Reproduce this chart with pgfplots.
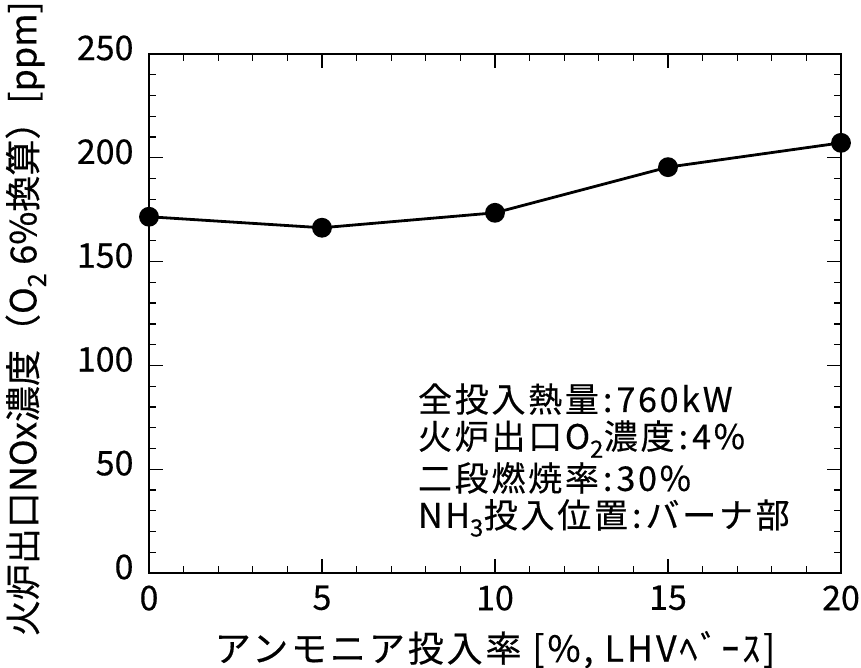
\documentclass[border=0pt]{standalone}
\usepackage{fontspec}
\setmainfont{Noto Sans CJK JP}[FakeBold=0.4]
\newfontfamily\spaced{Noto Sans CJK JP}[LetterSpace=8, FakeBold=0.4]
\usepackage{pgfplots}
\pgfplotsset{compat=1.18}
\newcommand{\col}{\hspace{0.12em}:\hspace{0.12em}}
\begin{document}
\begin{tikzpicture}
\begin{axis}[
  name=ax,
  scale only axis, width=692pt, height=519pt,
  xmin=0, xmax=20, ymin=0, ymax=250,
  xtick={0,5,10,15,20}, ytick={0,50,100,150,200,250},
  minor x tick num=4, minor y tick num=4,
  tick align=inside,
  major tick length=14pt, minor tick length=7pt,
  every tick/.style={black, line width=1.3pt},
  axis line style={line width=1.6pt},
  /pgf/number format/assume math mode=true,
  tick label style={font=\fontsize{34}{34}\selectfont},
  xticklabel style={yshift=-9pt},
  yticklabel style={xshift=-12pt, yshift=6pt},
  xlabel={アンモニア投入率 [\%, LHVﾍﾞｰｽ]},
  ylabel={火炉出口NOx濃度（O\textsubscript{2} 6\%換算）[ppm]},
  xlabel style={font=\spaced\fontsize{36}{36}\selectfont, at={(axis description cs:0.5,-0.148)}, anchor=center},
  ylabel style={font=\fontsize{36}{36}\selectfont, at={(axis description cs:-0.178,0.49)}, anchor=center},
  clip=false,
]
\addplot[black, line width=2.8pt, mark=*, mark size=8.5pt, mark options={solid, fill=black}]
  coordinates {(0,171.6) (5,166.3) (10,173.5) (15,195.5) (20,207.2)};
\node[anchor=west, inner sep=0pt, font=\spaced\fontsize{34}{34}\selectfont] at (axis cs:7.77,83.8) {全投入熱量\col 760kW};
\node[anchor=west, inner sep=0pt, font=\spaced\fontsize{34}{34}\selectfont] at (axis cs:7.77,64.5) {火炉出口O\textsubscript{2}濃度\col 4\%};
\node[anchor=west, inner sep=0pt, font=\spaced\fontsize{34}{34}\selectfont] at (axis cs:7.77,45.8) {二段燃焼率\col 30\%};
\node[anchor=west, inner sep=0pt, font=\spaced\fontsize{34}{34}\selectfont] at (axis cs:7.77,26.5) {NH\textsubscript{3}投入位置\col バーナ部};
\end{axis}
\pgfresetboundingbox
\path[use as bounding box] ([xshift=-149pt,yshift=-95pt]ax.south west) rectangle ([xshift=20pt,yshift=54pt]ax.north east);
\end{tikzpicture}
\end{document}
